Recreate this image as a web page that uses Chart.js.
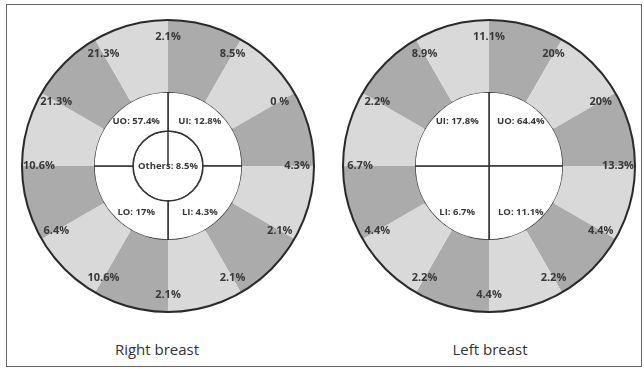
<!DOCTYPE html>
<html>
<head>
<meta charset="utf-8">
<script src="https://cdn.jsdelivr.net/npm/chart.js@4"></script>
<style>
  body { margin: 0; background: #fff; width: 644px; height: 369px; position: relative; overflow: hidden; }
  #frame { position: absolute; left: 6px; top: 4px; width: 634px; height: 361px; border: 1.5px solid #666; }
  canvas { position: absolute; }
  .title { position: absolute; width: 200px; text-align: center; font-family: "Open Sans", sans-serif; font-size: 15px; line-height: 20px; color: #333; }
</style>
</head>
<body>
<div id="frame"></div>
<canvas id="right-breast" width="320" height="320" style="left:8px; top:6px"></canvas>
<canvas id="left-breast" width="320" height="320" style="left:329px; top:6px"></canvas>
<div class="title" style="left:57px; top:339px">Right breast</div>
<div class="title" style="left:390px; top:339px">Left breast</div>
<script>
// clock positions, 12 o'clock first, going clockwise
const hours = ['12', '1', '2', '3', '4', '5', '6', '7', '8', '9', '10', '11'];
const rightClock = [2.1, 8.5, 0, 4.3, 2.1, 2.1, 2.1, 10.6, 6.4, 10.6, 21.3, 21.3];
const leftClock = [11.1, 20, 20, 13.3, 4.4, 2.2, 4.4, 2.2, 4.4, 6.7, 2.2, 8.9];

// quadrants, starting upper right, clockwise
const rightQuadNames = ['UI', 'LI', 'LO', 'UO'];
const rightQuadValues = [12.8, 4.3, 17, 57.4];
const leftQuadNames = ['UO', 'LO', 'LI', 'UI'];
const leftQuadValues = [64.4, 11.1, 6.7, 17.8];

const rightOthers = 8.5;

const dark = '#ababab';
const light = '#d9d9d9';
const ink = '#383838';

function pct(v) {
  return v === 0 ? '0 %' : v + '%';
}

const labelPlugin = {
  id: 'clockLabels',
  afterDatasetsDraw(chart) {
    const ctx = chart.ctx;
    const opts = chart.options.plugins.clockLabels;
    const ring = chart.getDatasetMeta(0).data[0];
    const cx = ring.x, cy = ring.y, R = ring.outerRadius;

    ctx.save();
    // outer rim
    ctx.beginPath();
    ctx.arc(cx, cy, R, 0, Math.PI * 2);
    ctx.lineWidth = 2;
    ctx.strokeStyle = '#2a2a2a';
    ctx.stroke();

    // clock values
    ctx.fillStyle = ink;
    ctx.textAlign = 'center';
    ctx.textBaseline = 'middle';
    ctx.font = 'bold 11px "Open Sans"';
    const r = R - 17;
    opts.clock.forEach((v, i) => {
      const a = i * Math.PI / 6;
      ctx.fillText(pct(v), cx + r * Math.sin(a), cy - r * Math.cos(a));
    });

    // quadrant values
    const quad = chart.getDatasetMeta(1).data[0];
    const q = quad.outerRadius;
    ctx.font = 'bold 9.5px "Open Sans"';
    const sx = [1, 1, -1, -1];
    const sy = [-1, 1, 1, -1];
    opts.quadNames.forEach((name, i) => {
      const dy = sy[i] < 0 ? -0.6 * q : 0.63 * q;
      ctx.fillText(name + ': ' + pct(opts.quadValues[i]), cx + sx[i] * 0.43 * q, cy + dy);
    });

    if (opts.others !== undefined) {
      ctx.fillText('Others: ' + pct(opts.others), cx, cy);
    }
    ctx.restore();
  }
};

function makeChart(id, clock, quadNames, quadValues, others) {
  const datasets = [
    {
      data: hours.map(() => 1),
      backgroundColor: hours.map((h, i) => i % 2 === 0 ? dark : light),
      borderWidth: 0,
      weight: 72
    },
    {
      data: quadValues.map(() => 1),
      backgroundColor: '#fff',
      borderColor: '#333',
      borderWidth: 1.5,
      weight: others !== undefined ? 39 : 74
    }
  ];
  if (others !== undefined) {
    datasets.push({
      data: [1],
      backgroundColor: '#fff',
      borderColor: '#333',
      borderWidth: 1.5,
      weight: 35
    });
  }

  new Chart(document.getElementById(id).getContext('2d'), {
    type: 'doughnut',
    data: { labels: hours, datasets: datasets },
    options: {
      responsive: false,
      animation: false,
      events: [],
      radius: 146,
      cutout: 0,
      layout: { padding: 0 },
      plugins: {
        legend: { display: false },
        tooltip: { enabled: false },
        clockLabels: { clock: clock, quadNames: quadNames, quadValues: quadValues, others: others }
      }
    },
    plugins: [labelPlugin]
  });
}

makeChart('right-breast', rightClock, rightQuadNames, rightQuadValues, rightOthers);
makeChart('left-breast', leftClock, leftQuadNames, leftQuadValues);
</script>
</body>
</html>
